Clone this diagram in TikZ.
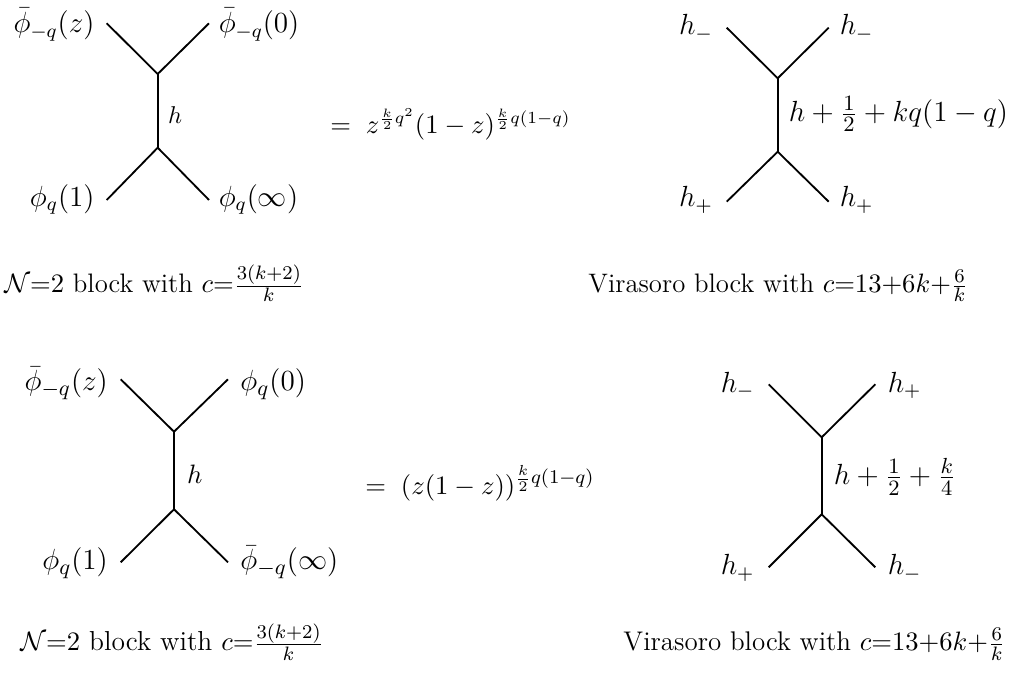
\documentclass[tikz,border=0pt]{standalone}
\begin{document}
\begin{tikzpicture}[x=0.4115pt,y=-0.4115pt,
  leg/.style={line width=0.75pt},
  lbl/.style={inner sep=0pt, font=\fontsize{12}{14}\selectfont},
  lblb/.style={inner sep=0pt, font=\fontsize{12.7}{15}\selectfont},
  midlbl/.style={inner sep=0pt, anchor=base west, font=\fontsize{10}{12}\selectfont},
  biglbl/.style={inner sep=0pt, anchor=base west, font=\fontsize{12.8}{15}\selectfont},
  eqn/.style={inner sep=0pt, anchor=base west, font=\fontsize{10.6}{13}\selectfont},
  capt/.style={inner sep=0pt, anchor=base west, font=\fontsize{11}{13}\selectfont}]
\useasboundingbox (0,0) rectangle (1018,677);

% ---------- Diagram A (top left) ----------
\coordinate (At) at (157.7,74);
\coordinate (Ab) at (157.7,147.7);
\coordinate (Aul) at (106.7,23.3);
\coordinate (Aur) at (209,23.3);
\coordinate (All) at (106.7,200);
\coordinate (Alr) at (209,200);
\draw[leg] (Aul) -- (At) -- (Aur);
\draw[leg] (At) -- (Ab);
\draw[leg] (All) -- (Ab) -- (Alr);
\node[lbl, anchor=base east] (a1) at (95,32.7) {$\bar\phi_{-q}(z)$};
\node[lbl, anchor=base west] (a2) at (218.3,32.7) {$\bar\phi_{-q}(0)$};
\node[lbl, anchor=base east] (a3) at (95,206.5) {$\phi_q(1)$};
\node[lbl, anchor=base west] (a4) at (218.3,206.5) {$\phi_q(\infty)$};
\node[midlbl] (ah) at (167.7,124) {$h$};
\node[eqn] (aeq) at (330,133.2) {$=\;z^{\frac{k}{2}q^2}(1-z)^{\frac{k}{2}q(1-q)}$};
\node[capt] (acap) at (4,292.7) {$\mathcal{N}{=}2$ block with $c{=}\frac{3(k+2)}{k}$};

% ---------- Diagram B (top right) ----------
\coordinate (Bt) at (777.7,78.3);
\coordinate (Bb) at (777.7,151.7);
\coordinate (Bul) at (726.7,27.7);
\coordinate (Bur) at (828.7,27.7);
\coordinate (Bll) at (726.7,201.7);
\coordinate (Blr) at (828.7,201.7);
\draw[leg] (Bul) -- (Bt) -- (Bur);
\draw[leg] (Bt) -- (Bb);
\draw[leg] (Bll) -- (Bb) -- (Blr);
\node[lbl, anchor=base east] (b1) at (713.3,35) {$h_-$};
\node[lbl, anchor=base west] (b2) at (839.3,35) {$h_-$};
\node[lbl, anchor=base east] (b3) at (713.3,207) {$h_+$};
\node[lbl, anchor=base west] (b4) at (839.3,207) {$h_+$};
\node[biglbl] (bh) at (788.3,121.7) {$h+\frac{1}{2}+kq(1-q)$};
\node[capt] (bcap) at (588,292.7) {Virasoro block with $c{=}13{+}6k{+}\frac{6}{k}$};

% ---------- Diagram C (bottom left) ----------
\coordinate (Ct) at (174,431.7);
\coordinate (Cb) at (174,509.3);
\coordinate (Cul) at (120.7,379.3);
\coordinate (Cur) at (228,379.3);
\coordinate (Cll) at (120.7,562.3);
\coordinate (Clr) at (228,562.3);
\draw[leg] (Cul) -- (Ct) -- (Cur);
\draw[leg] (Ct) -- (Cb);
\draw[leg] (Cll) -- (Cb) -- (Clr);
\node[lblb, anchor=base east] (c1) at (108.3,391) {$\bar\phi_{-q}(z)$};
\node[lblb, anchor=base west] (c2) at (240,391) {$\phi_q(0)$};
\node[lblb, anchor=base east] (c3) at (108.3,570) {$\phi_q(1)$};
\node[lblb, anchor=base west] (c4) at (240,570) {$\bar\phi_{-q}(\infty)$};
\node[midlbl, font=\fontsize{10.7}{13}\selectfont] (ch) at (186.7,484) {$h$};
\node[eqn, font=\fontsize{11.3}{14}\selectfont] (ceq) at (365,494.4) {$=\;(z(1-z))^{\frac{k}{2}q(1-q)}$};
\node[capt, font=\fontsize{11.3}{14}\selectfont] (ccap) at (20,651) {$\mathcal{N}{=}2$ block with $c{=}\frac{3(k+2)}{k}$};

% ---------- Diagram D (bottom right) ----------
\coordinate (Dt) at (821.7,437.3);
\coordinate (Db) at (821.7,514.3);
\coordinate (Dul) at (768.7,384.3);
\coordinate (Dur) at (875.3,384.3);
\coordinate (Dll) at (768.7,567.3);
\coordinate (Dlr) at (875.3,567.3);
\draw[leg] (Dul) -- (Dt) -- (Dur);
\draw[leg] (Dt) -- (Db);
\draw[leg] (Dll) -- (Db) -- (Dlr);
\node[lbl, anchor=base east] (d1) at (755,392.3) {$h_-$};
\node[lbl, anchor=base west] (d2) at (887.3,392.3) {$h_+$};
\node[lbl, anchor=base east] (d3) at (755,575) {$h_+$};
\node[lbl, anchor=base west] (d4) at (887.3,575) {$h_-$};
\node[biglbl, font=\fontsize{13.1}{16}\selectfont] (dh) at (833.3,485) {$h+\frac{1}{2}+\frac{k}{4}$};
\node[capt, font=\fontsize{11.1}{13}\selectfont] (dcap) at (623,651) {Virasoro block with $c{=}13{+}6k{+}\frac{6}{k}$};
\end{tikzpicture}
\end{document}
